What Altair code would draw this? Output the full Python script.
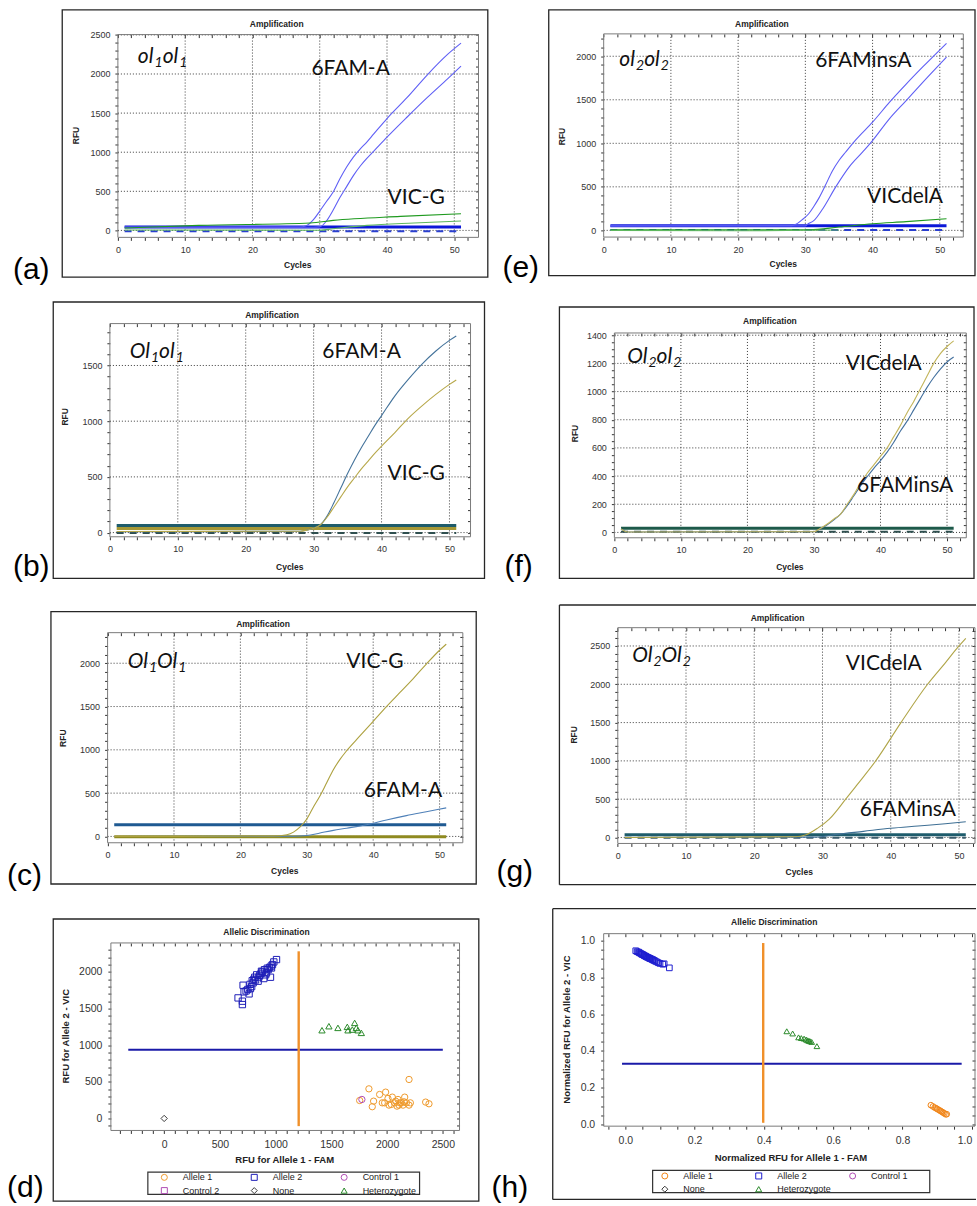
import altair as alt
import pandas as pd

AXF = "Liberation Sans"
LBF = "Lato"
FRAME_C = "#262626"
PLOT_C = "#7a7a7a"
GRID_C = "#3a3a3a"
CYC_FIRST, CYC_LAST = 1, 51

# ================= DATA =================
A_FAM1_C = [1, 27, 28, 29, 30, 31, 32, 33, 34, 35, 36, 37, 38, 40, 43, 46, 49, 51]
A_FAM1_V = [42, 44, 60, 130, 247, 370, 490, 660, 810, 937, 1040, 1130, 1230, 1430, 1700, 1990, 2250, 2394]
A_FAM2_C = [1, 29, 30, 31, 32, 33, 34, 35, 36, 37, 38, 40, 43, 46, 49, 51]
A_FAM2_V = [40, 40, 45, 120, 260, 420, 560, 700, 820, 920, 1010, 1192, 1450, 1700, 1938, 2100]
A_VIC1_C = [1, 12, 28.6, 32, 42, 51]
A_VIC1_V = [30, 64, 94, 128, 179, 213]
A_VIC2_C = [1, 30, 32, 37, 44, 51]
A_VIC2_V = [5, 3, 21, 64, 95, 120]
A_THR = 45
A_BASE = -12

E_FAM1_C = [1, 28, 28.6, 29.5, 30.5, 31.3, 32.1, 33, 34, 35, 36, 37.5, 40, 42.5, 45, 47.5, 51]
E_FAM1_V = [52, 54, 69, 120, 191, 280, 382, 520, 680, 803, 900, 1040, 1243, 1470, 1680, 1880, 2149]
E_FAM2_C = [1, 30, 30.3, 31.3, 32.6, 34.5, 36.5, 38.5, 40, 42.5, 45, 47.5, 51]
E_FAM2_V = [50, 52, 69, 115, 249, 497, 727, 899, 1032, 1281, 1491, 1702, 1989]
E_VIC1_C = [1, 30.6, 35, 40, 45, 51]
E_VIC1_V = [8, 8, 38, 76, 100, 134]
E_VIC2_C = [1, 20, 35]
E_VIC2_V = [0, -5, 5]
E_THR = 54
E_BASE = 5

B_FAM_C = [1, 28, 29, 30, 31, 32, 33, 34, 35, 36, 37, 38, 39, 40, 42, 44, 46, 48, 50, 51]
B_FAM_V = [8, 12, 22, 40, 70, 150, 270, 400, 530, 650, 760, 860, 960, 1050, 1230, 1380, 1515, 1630, 1725, 1765]
B_VIC_C = [1, 28, 29, 30, 31, 32, 33, 34, 35, 36, 37, 38, 39, 40, 42, 44, 46, 48, 50, 51]
B_VIC_V = [10, 12, 22, 38, 70, 140, 230, 320, 410, 490, 570, 640, 710, 775, 900, 1030, 1140, 1240, 1330, 1370]
B_THR_FAM = 63
B_THR_VIC = 36
B_BASE = -3

F_C = [1, 2, 30, 31, 32, 33, 34, 35, 36, 37, 38, 39, 40, 41, 42, 43, 44, 45, 46, 47, 48, 49, 50, 51]
F_VIC_V = [25, 3, 5, 30, 60, 95, 130, 200, 270, 350, 420, 480, 540, 600, 680, 760, 850, 930, 1020, 1110, 1200, 1270, 1320, 1360]
F_FAM_V = [25, 3, 5, 28, 55, 90, 130, 190, 260, 330, 395, 455, 510, 570, 640, 720, 790, 870, 950, 1030, 1100, 1160, 1210, 1245]
F_THR = 30
F_BASE = 4

C_VIC_C = [1, 25, 27, 28, 29, 30, 31, 32, 33, 34, 35, 36, 38, 40, 42, 44, 46, 48, 50, 51]
C_VIC_V = [0, 5, 20, 50, 110, 200, 340, 470, 620, 770, 890, 990, 1160, 1330, 1500, 1660, 1820, 1990, 2150, 2220]
C_FAM_C = [1, 28, 30, 32, 34, 36, 39, 42, 45, 48, 51]
C_FAM_V = [0, 2, 10, 40, 70, 95, 135, 190, 240, 285, 330]
C_THR_FAM = 135
C_THR_VIC = -5

G_VIC_C = [1, 26, 27.6, 29.3, 31, 33.4, 35, 37.8, 41.5, 45.4, 48, 50, 51]
G_VIC_V = [0, 10, 35, 122, 240, 500, 680, 1000, 1500, 2000, 2280, 2500, 2600]
G_FAM_C = [1, 29, 32, 36, 40, 44, 48, 51]
G_FAM_V = [0, 5, 40, 80, 120, 150, 180, 205]
G_THR = 35
G_BASE = -5

D_A1_X = [1754, 1837, 1879, 1867, 1933, 1987, 1978, 2017, 2047, 2068, 2098, 2089, 2128, 2158,
          2173, 2197, 2209, 2197, 2143, 2113, 2346, 2376, 2008, 1957, 2038, 2077, 2107, 2152]
D_A1_Y = [245, 404, 236, 160, 327, 359, 213, 182, 291, 213, 259, 168, 213, 291,
          213, 532, 213, 182, 182, 213, 223, 200, 273, 213, 191, 236, 182, 227]
D_A2_X = [702, 702, 663, 708, 717, 762, 774, 798, 813, 843, 858, 873, 894, 918, 933, 954, 963, 972,
          984, 1008, 735, 750, 785, 790, 820, 830, 850, 870, 880, 900, 910, 925, 945, 960, 770, 805]
D_A2_Y = [1554, 1600, 1645, 1818, 1727, 1700, 1772, 1850, 1927, 1873, 1954, 2009, 1909, 1986, 2031, 1927, 2054, 2100,
          2136, 2168, 1740, 1760, 1800, 1880, 1890, 1960, 1930, 1980, 2000, 2030, 1960, 2050, 2060, 2080, 1830, 1900]
D_HET_X = [1416, 1478, 1559, 1643, 1649, 1688, 1709, 1724, 1769, 1739]
D_HET_Y = [1204, 1259, 1236, 1250, 1204, 1213, 1304, 1236, 1168, 1204]
D_C1_X, D_C1_Y = [1774], [259]
D_NONE_X, D_NONE_Y = [0], [0]
D_HLINE = {"v": 936, "a": -322, "b": 2500}
D_VLINE = {"v": 1207, "a": -105, "b": 2281}

H_A2_X = [0.030, 0.034, 0.038, 0.040, 0.043, 0.046, 0.048, 0.050, 0.053, 0.055, 0.058, 0.060, 0.062, 0.065,
          0.068, 0.070, 0.072, 0.075, 0.078, 0.080, 0.083, 0.086, 0.090, 0.095, 0.100, 0.108, 0.112, 0.127]
H_A2_Y = [0.945, 0.940, 0.938, 0.934, 0.932, 0.928, 0.926, 0.924, 0.921, 0.918, 0.916, 0.913, 0.911, 0.909,
          0.906, 0.904, 0.902, 0.900, 0.897, 0.895, 0.892, 0.889, 0.885, 0.880, 0.876, 0.872, 0.874, 0.852]
H_HET_X = [0.466, 0.483, 0.500, 0.508, 0.516, 0.522, 0.526, 0.530, 0.533, 0.538, 0.553]
H_HET_Y = [0.507, 0.495, 0.474, 0.470, 0.467, 0.462, 0.458, 0.455, 0.453, 0.449, 0.426]
H_A1_X = [0.882, 0.888, 0.893, 0.897, 0.900, 0.904, 0.908, 0.911, 0.915, 0.918, 0.921, 0.925, 0.928]
H_A1_Y = [0.105, 0.098, 0.092, 0.088, 0.085, 0.080, 0.076, 0.072, 0.068, 0.064, 0.060, 0.055, 0.056]
H_HLINE = {"v": 0.33, "a": -0.0096, "b": 0.971}
H_VLINE = {"v": 0.398, "a": 0.009, "b": 0.987}

D_CATS = ["Allele 1", "Allele 2", "Control 1", "Control 2", "None", "Heterozygote"]
D_CAT_COLORS = ["#ee9a2c", "#1f1fb8", "#b04cb4", "#b04cb4", "#3a3a3a", "#2a8a2a"]
D_CAT_SHAPES = ["circle", "square", "circle", "square", "diamond", "triangle-up"]
H_CATS = ["Allele 1", "Allele 2", "Control 1", "None", "Heterozygote"]
H_CAT_COLORS = ["#f0861a", "#1f1fd0", "#b04cb4", "#3a3a3a", "#2a8a2a"]
H_CAT_SHAPES = ["circle", "square", "circle", "diamond", "triangle-up"]

GT_A = [("ol", "1"), ("ol", "1")]
GT_E = [("ol", "2"), ("ol", "2")]
GT_B = [("Ol", "1"), ("ol", "1")]
GT_F = [("Ol", "2"), ("ol", "2")]
GT_C = [("Ol", "1"), ("Ol", "1")]
GT_G = [("Ol", "2"), ("Ol", "2")]

# ================= LAYOUT (page pixels) =================
PA = dict(cell=(0, 0, 490, 290), plot=(118, 34, 361, 203), xdom=[0, 53.6], ydom=[-89, 2504],
          frame=(62.3, 9.3, 488.3, 276.7), title=(277, 23), ytitle=(76, 135), xtitle=(298, 265),
          letter=("(a)", 13, 279), ystep=100, ymaj=500, gt=(GT_A, 138, 62),
          labels=[("6FAM-A", 311.7, 74), ("VIC-G", 388, 203.3)])
PE = dict(cell=(490, 0, 977, 290), plot=(604.3, 33.3, 360, 203.4), xdom=[0, 53.5], ydom=[-77, 2257],
          frame=(549.3, 9.3, 976, 275.3), title=(762.7, 23), ytitle=(562.7, 136), xtitle=(784, 264),
          letter=("(e)", 503, 277), ystep=100, ymaj=500, gt=(GT_E, 620, 65),
          labels=[("6FAMinsA", 816, 66.7), ("VICdelA", 868, 203)])
PB = dict(cell=(0, 290, 490, 597), plot=(110, 323.3, 361, 213.4), xdom=[0, 53.1], ydom=[-37.6, 1876],
          frame=(53.3, 301.7, 485, 578.3), title=(272.3, 315), ytitle=(65.3, 416.7), xtitle=(290, 566.7),
          letter=("(b)", 13, 576), ystep=100, ymaj=500, gt=(GT_B, 130, 358),
          labels=[("6FAM-A", 322.7, 358), ("VIC-G", 388, 480)])
PF = dict(cell=(490, 290, 977, 592), plot=(615, 332.7, 352.3, 205), xdom=[0, 52.9], ydom=[-38, 1416],
          frame=(560, 306.7, 975, 578.3), title=(770.7, 321), ytitle=(575.3, 433.3), xtitle=(790.7, 566.7),
          letter=("(f)", 505, 576), ystep=50, ymaj=200, gt=(GT_F, 628, 362.7),
          labels=[("VICdelA", 846.7, 370), ("6FAMinsA", 858, 491.7)])
PC = dict(cell=(0, 597, 490, 905), plot=(107.7, 632.7, 355.6, 210.3), xdom=[0, 53.5], ydom=[-73, 2353],
          frame=(51, 611.7, 476.7, 884.3), title=(263.3, 624), ytitle=(63.3, 738.3), xtitle=(285, 871.7),
          letter=("(c)", 7, 885), ystep=100, ymaj=500, gt=(GT_C, 128, 668),
          labels=[("VIC-G", 346.7, 668), ("6FAM-A", 364, 796.7)])
PG = dict(cell=(490, 592, 977, 897), plot=(618.4, 627.7, 357.6, 216), xdom=[0, 52.35], ydom=[-78, 2739],
          frame=(560, 605, 977, 885), open=True, title=(778.3, 617.7), ytitle=(575, 735), xtitle=(800, 872.3),
          letter=("(g)", 497, 881.7), ystep=100, ymaj=500, gt=(GT_G, 633, 661.7),
          labels=[("VICdelA", 846.7, 670), ("6FAMinsA", 860.7, 816.7)])
PD = dict(cell=(0, 905, 490, 1206), plot=(111, 943.3, 349, 187.7), xdom=[-478, 2650], ydom=[-164, 2395],
          frame=(53.3, 919.3, 479.3, 1201.7), title=(266.7, 932.3), ytitle=(66, 1036.7), xtitle=(285, 1161),
          letter=("(d)", 7, 1198), legbox=(148, 1172.7, 420, 1195), leg=(160, 1173.2), colpad=12, laboff=14)
PH = dict(cell=(490, 897, 977, 1206), plot=(604.3, 934, 371.7, 192.7), xdom=[-0.0626, 1.0095], ydom=[-0.0092, 1.038],
          frame=(553.3, 909, 977, 1200), open=True, title=(775, 922.7), ytitle=(567.3, 1030), xtitle=(791.7, 1159),
          letter=("(h)", 492, 1198), legbox=(653.3, 1171, 930.7, 1193.3), leg=(661, 1171.8), colpad=16, laboff=14)

ONE = pd.DataFrame({"t": [""]})
GLYPH_EM = {"o": 0.55, "O": 0.76, "l": 0.245, "1": 0.58, "2": 0.58}
GT_SIZE, GT_SUB = 21, 14


def series_df(items):
    rows = []
    for name, cs, vs in items:
        for i, (c, v) in enumerate(zip(cs, vs)):
            rows.append({"s": name, "c": c, "v": v, "o": i})
    return pd.DataFrame(rows)


def rules_df(items):
    return pd.DataFrame([{"s": n, "c1": CYC_FIRST, "c2": CYC_LAST, "v": v} for n, v in items])


def rel(P, x, y):
    return x - P["cell"][0], y - P["cell"][1]


def txt(P, s, x, y, size, weight="normal", style="normal", font=AXF, align="center",
        baseline="middle", angle=0, color="#222"):
    rx, ry = rel(P, x, y)
    kw = dict(font=font, fontSize=size, fontWeight=weight, fontStyle=style, align=align,
              baseline=baseline, color=color)
    if angle:
        kw["angle"] = angle
    return alt.Chart(pd.DataFrame({"t": [s]})).mark_text(**kw).encode(
        x=alt.value(rx), y=alt.value(ry), text="t:N")


def box(P, x0, y0, x1, y1, color, width):
    a, b = rel(P, x0, y0)
    c, d = rel(P, x1, y1)
    return alt.Chart(ONE).mark_rect(fillOpacity=0, stroke=color, strokeWidth=width).encode(
        x=alt.value(a), x2=alt.value(c), y=alt.value(b), y2=alt.value(d))


def genotype(P):
    parts, x, y = P["gt"]
    out = []
    for main, sub in parts:
        out.append(txt(P, main, x, y, GT_SIZE, style="italic", font=LBF, align="left",
                       baseline="alphabetic", color="#111"))
        x += sum(GLYPH_EM[ch] for ch in main) * GT_SIZE
        out.append(txt(P, sub, x, y + 4, GT_SUB, style="italic", font=LBF, align="left",
                       baseline="alphabetic", color="#111"))
        x += GLYPH_EM[sub] * GT_SUB
    return out


def deco(P, title_s, xt, yt, tfs, afs):
    out = []
    fx0, fy0, fx1, fy1 = P["frame"]
    if P.get("open"):
        a, b = rel(P, fx0, fy0)
        c, d = rel(P, fx1, fy1)
        out.append(alt.Chart(ONE).mark_rule(color=FRAME_C, strokeWidth=1.3).encode(
            x=alt.value(a), x2=alt.value(c), y=alt.value(b)))
        out.append(alt.Chart(ONE).mark_rule(color=FRAME_C, strokeWidth=1.3).encode(
            x=alt.value(a), y=alt.value(b), y2=alt.value(d)))
        out.append(alt.Chart(ONE).mark_rule(color=FRAME_C, strokeWidth=1.3).encode(
            x=alt.value(a), x2=alt.value(c), y=alt.value(d)))
    else:
        out.append(box(P, fx0, fy0, fx1, fy1, FRAME_C, 1.3))
    L, T, W, H = P["plot"]
    out.append(box(P, L, T, L + W, T + H, PLOT_C, 1))
    out.append(txt(P, title_s, P["title"][0], P["title"][1], tfs, weight="bold"))
    out.append(txt(P, yt, P["ytitle"][0], P["ytitle"][1], afs, weight="bold", angle=270))
    out.append(txt(P, xt, P["xtitle"][0], P["xtitle"][1], afs, weight="bold"))
    s, lx, ly = P["letter"]
    out.append(txt(P, s, lx, ly, 30, align="left", baseline="alphabetic", color="#000"))
    return out


def scales(P):
    L, T, W, H = P["plot"]
    pl, pt = rel(P, L, T)
    xs = alt.Scale(domain=P["xdom"], range=[pl, pl + W], nice=False, zero=False)
    ys = alt.Scale(domain=P["ydom"], range=[pt + H, pt], nice=False, zero=False)
    return xs, ys


def major_test(m):
    return f"abs(datum.value / {m} - round(datum.value / {m})) < 0.001"


def grid_layers(P, xs, ys, xg, yg):
    L, T, W, H = P["plot"]
    pl, pt = rel(P, L, T)
    gx = alt.Chart(pd.DataFrame({"g": xg})).mark_rule(color=GRID_C, strokeWidth=1, strokeDash=[1, 2]).encode(
        x=alt.X("g:Q", scale=xs, axis=None), y=alt.value(pt), y2=alt.value(pt + H))
    gy = alt.Chart(pd.DataFrame({"g": yg})).mark_rule(color=GRID_C, strokeWidth=1, strokeDash=[1, 2]).encode(
        y=alt.Y("g:Q", scale=ys, axis=None), x=alt.value(pl), x2=alt.value(pl + W))
    return [gx, gy]


def axis_layers(P, xs, ys, xv, yv, xm, ym, fs, xpad, ypad, fmt, xextra=None):
    L, T, W, H = P["plot"]
    pl, pt = rel(P, L, T)
    CW = P["cell"][2] - P["cell"][0]
    CH = P["cell"][3] - P["cell"][1]
    tx, ty = major_test(xm), major_test(ym)
    common = dict(domain=False, grid=False, tickColor="#333", tickWidth=1, tickSize=3, labelFont=AXF,
                  labelFontSize=fs, labelColor="#333", labelOverlap=False, labelFlush=False,
                  title=None, format=fmt, minExtent=0)
    ax_b = alt.Axis(orient="bottom", values=xv, labelExpr=f"{tx} ? datum.label : ''",
                    labelPadding=xpad, offset=-(CH - (pt + H)), **common, **(xextra or {}))
    ax_l = alt.Axis(orient="left", values=yv, labelExpr=f"{ty} ? datum.label : ''",
                    labelPadding=ypad, offset=-pl, **common)
    inner = dict(labels=False, grid=False, domain=False, tickSize=3, tickColor="#333",
                 title=None, minExtent=0, maxExtent=0)
    ax_t = alt.Axis(orient="top", values=xv, offset=-(pt + 3), **inner)
    ax_r = alt.Axis(orient="right", values=yv, offset=(pl + W - 3) - CW, **inner)
    d = pd.DataFrame({"c": [P["xdom"][0]], "v": [P["ydom"][0]]})
    l1 = alt.Chart(d).mark_point(opacity=0).encode(
        x=alt.X("c:Q", scale=xs, axis=ax_b), y=alt.Y("v:Q", scale=ys, axis=ax_l))
    l2 = alt.Chart(d).mark_point(opacity=0).encode(
        x=alt.X("c:Q", scale=xs, axis=ax_t), y=alt.Y("v:Q", scale=ys, axis=ax_r))
    return [l1, l2]


def finish(P, layers):
    cx0, cy0, cx1, cy1 = P["cell"]
    return alt.layer(*layers).resolve_axis(x="independent", y="independent").properties(
        width=cx1 - cx0, height=cy1 - cy0)


def amp_panel(P, items, thr_items, base_items, colors):
    xs, ys = scales(P)
    cs = alt.Scale(domain=list(colors), range=[colors[k] for k in colors])
    xv = [c for c in range(0, 54, 2) if c <= P["xdom"][1]]
    yv = [v for v in range(0, 3000, P["ystep"]) if v <= P["ydom"][1]]
    xg = [c for c in range(10, 60, 10) if c <= P["xdom"][1]]
    yg = [v for v in range(0, 3000, P["ymaj"]) if v <= P["ydom"][1]]
    layers = axis_layers(P, xs, ys, xv, yv, 10, P["ymaj"], 9, 5, 5, "d")
    layers += grid_layers(P, xs, ys, xg, yg)
    layers += deco(P, "Amplification", "Cycles", "RFU", 8.5, 8.5)
    if base_items:
        layers.append(alt.Chart(rules_df(base_items)).mark_rule(strokeWidth=2, strokeDash=[7, 6]).encode(
            x=alt.X("c1:Q", scale=xs, axis=None), x2="c2:Q", y=alt.Y("v:Q", scale=ys, axis=None),
            color=alt.Color("s:N", scale=cs, legend=None)))
    layers.append(alt.Chart(rules_df(thr_items)).mark_rule(strokeWidth=3).encode(
        x=alt.X("c1:Q", scale=xs, axis=None), x2="c2:Q", y=alt.Y("v:Q", scale=ys, axis=None),
        color=alt.Color("s:N", scale=cs, legend=None)))
    layers.append(alt.Chart(series_df(items)).mark_line(strokeWidth=1.1, interpolate="monotone").encode(
        x=alt.X("c:Q", scale=xs, axis=None), y=alt.Y("v:Q", scale=ys, axis=None),
        color=alt.Color("s:N", scale=cs, legend=None), detail="s:N", order="o:Q"))
    layers += genotype(P)
    for s, x, y in P["labels"]:
        layers.append(txt(P, s, x, y, 21, font=LBF, align="left", baseline="alphabetic", color="#111"))
    return finish(P, layers)


def scatter_panel(P, groups, cats, ccolors, cshapes, hline, vline, xv, yv, xm, ym, fmt, xt, yt, psize, xextra=None):
    xs, ys = scales(P)
    layers = axis_layers(P, xs, ys, xv, yv, xm, ym, 10.5, 6, 6, fmt, xextra)
    layers += deco(P, "Allelic Discrimination", xt, yt, 8.5, 9.5)
    bx0, by0, bx1, by1 = P["legbox"]
    layers.append(box(P, bx0, by0, bx1, by1, "#333", 1.2))
    hd = pd.DataFrame({"v": [hline["v"]], "a": [hline["a"]], "b": [hline["b"]]})
    vd = pd.DataFrame({"v": [vline["v"]], "a": [vline["a"]], "b": [vline["b"]]})
    layers.append(alt.Chart(hd).mark_rule(color="#1a1aa8", strokeWidth=2).encode(
        x=alt.X("a:Q", scale=xs, axis=None), x2="b:Q", y=alt.Y("v:Q", scale=ys, axis=None)))
    layers.append(alt.Chart(vd).mark_rule(color="#f0902a", strokeWidth=2.4).encode(
        x=alt.X("v:Q", scale=xs, axis=None), y=alt.Y("a:Q", scale=ys, axis=None), y2="b:Q"))
    rows = []
    for cat, xsv, ysv in groups:
        for x, y in zip(xsv, ysv):
            rows.append({"x": x, "y": y, "cat": cat})
    lx, ly = rel(P, *P["leg"])
    leg = alt.Legend(orient="none", legendX=lx, legendY=ly, columns=3, title=None,
                     padding=0, gridAlign="all", columnPadding=P["colpad"], rowPadding=2.5,
                     symbolSize=36, symbolStrokeWidth=1, labelFont=AXF, labelFontSize=9,
                     labelColor="#222", labelOffset=P["laboff"], direction="horizontal")
    layers.append(alt.Chart(pd.DataFrame(rows)).mark_point(filled=False, size=psize, strokeWidth=1, opacity=1).encode(
        x=alt.X("x:Q", scale=xs, axis=None), y=alt.Y("y:Q", scale=ys, axis=None),
        color=alt.Color("cat:N", scale=alt.Scale(domain=cats, range=ccolors), legend=leg),
        shape=alt.Shape("cat:N", scale=alt.Scale(domain=cats, range=cshapes), legend=leg)))
    return finish(P, layers)


FAM_BLUE = "#5f5ff5"
THR_BLUE = "#0c18d8"
pa = amp_panel(PA,
               [("fam1", A_FAM1_C, A_FAM1_V), ("fam2", A_FAM2_C, A_FAM2_V),
                ("vic1", A_VIC1_C, A_VIC1_V), ("vic2", A_VIC2_C, A_VIC2_V)],
               [("thr", A_THR)], [("base", A_BASE)],
               {"fam1": FAM_BLUE, "fam2": FAM_BLUE, "vic1": "#1f9a1f", "vic2": "#5fb85f",
                "thr": THR_BLUE, "base": "#2a3fd0"})
pe = amp_panel(PE,
               [("fam1", E_FAM1_C, E_FAM1_V), ("fam2", E_FAM2_C, E_FAM2_V),
                ("vic1", E_VIC1_C, E_VIC1_V), ("vic2", E_VIC2_C, E_VIC2_V)],
               [("thr", E_THR)], [("base", E_BASE)],
               {"fam1": FAM_BLUE, "fam2": FAM_BLUE, "vic1": "#1f9a1f", "vic2": "#5fb85f",
                "thr": THR_BLUE, "base": "#2a3fd0"})
pb = amp_panel(PB,
               [("fam", B_FAM_C, B_FAM_V), ("vic", B_VIC_C, B_VIC_V)],
               [("thrv", B_THR_VIC), ("thrf", B_THR_FAM)], [("base", B_BASE)],
               {"fam": "#44739b", "vic": "#b7a84a", "thrf": "#1e5c6b", "thrv": "#a69836", "base": "#2f4f4f"})
pf = amp_panel(PF,
               [("fam", F_C, F_FAM_V), ("vic", F_C, F_VIC_V)],
               [("thr", F_THR)], [("base", F_BASE)],
               {"fam": "#43709e", "vic": "#c2b45a", "thr": "#1d5a4a", "base": "#2f4f4f"})
pc = amp_panel(PC,
               [("fam", C_FAM_C, C_FAM_V), ("vic", C_VIC_C, C_VIC_V)],
               [("thrv", C_THR_VIC), ("thrf", C_THR_FAM)], [],
               {"fam": "#4f80b8", "vic": "#ada13f", "thrf": "#1f5a92", "thrv": "#8f8a20"})
pg = amp_panel(PG,
               [("fam", G_FAM_C, G_FAM_V), ("vic", G_VIC_C, G_VIC_V)],
               [("thr", G_THR)], [("base", G_BASE)],
               {"fam": "#3e6f94", "vic": "#b0a548", "thr": "#1e5c6c", "base": "#3b5b6b"})

pd_chart = scatter_panel(
    PD,
    [("Allele 1", D_A1_X, D_A1_Y), ("Allele 2", D_A2_X, D_A2_Y), ("Control 1", D_C1_X, D_C1_Y),
     ("None", D_NONE_X, D_NONE_Y), ("Heterozygote", D_HET_X, D_HET_Y)],
    D_CATS, D_CAT_COLORS, D_CAT_SHAPES, D_HLINE, D_VLINE,
    list(range(-400, 2700, 100)), list(range(-100, 2400, 100)), 500, 500, "d",
    "RFU for Allele 1 - FAM", "RFU for Allele 2 - VIC", 40)

ph_chart = scatter_panel(
    PH,
    [("Allele 1", H_A1_X, H_A1_Y), ("Allele 2", H_A2_X, H_A2_Y), ("Heterozygote", H_HET_X, H_HET_Y)],
    H_CATS, H_CAT_COLORS, H_CAT_SHAPES, H_HLINE, H_VLINE,
    [round(-0.05 + 0.05 * i, 2) for i in range(22)], [round(0.05 * i, 2) for i in range(21)], 0.2, 0.2, ".1f",
    "Normalized RFU for Allele 1 - FAM", "Normalized RFU for Allele 2 - VIC", 32,
    xextra=dict(labelAlign={"condition": {"test": "datum.value > 0.99", "value": "right"}, "value": "center"}))

RES = dict(color="independent", shape="independent")
left = alt.vconcat(pa, pb, pc, pd_chart, spacing=0).resolve_scale(**RES).resolve_legend(**RES)
right = alt.vconcat(pe, pf, pg, ph_chart, spacing=0).resolve_scale(**RES).resolve_legend(**RES)
chart = alt.hconcat(left, right, spacing=0).resolve_scale(**RES).resolve_legend(**RES).properties(
    padding=0, background="white").configure_view(strokeWidth=0)

chart.save("out.html", embed_options={"renderer": "svg", "actions": False})
